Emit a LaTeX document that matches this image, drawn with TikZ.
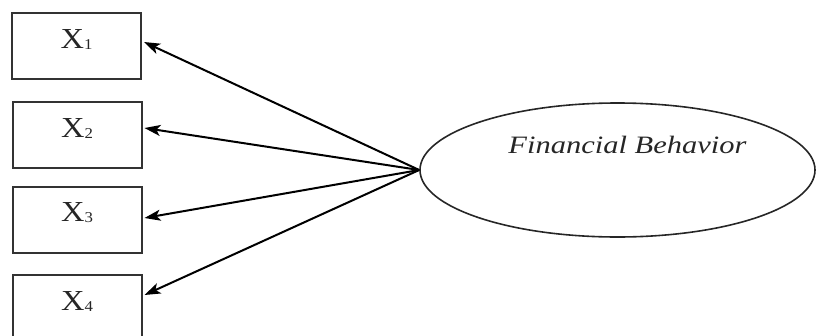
\documentclass[tikz,border=0pt]{standalone}
\usepackage{fontspec}
\setmainfont{Liberation Serif}
\newfontfamily\boxfont[FakeStretch=1.12]{Liberation Serif}
\newfontfamily\ellfont[FakeStretch=1.22]{Liberation Serif}
\usetikzlibrary{shapes.geometric,arrows.meta}
\newcommand{\xlab}[1]{X{\fontsize{15pt}{15pt}\selectfont\raisebox{-1pt}{#1}}}
\begin{document}
\begin{tikzpicture}[x=1pt,y=-1pt,
  itembox/.style={draw=black!80,line width=2pt,rectangle,inner sep=0pt,
    minimum width=129pt,minimum height=66pt,text height=20pt,text depth=16pt,
    text=black!85,font=\boxfont\fontsize{29pt}{29pt}\selectfont},
  latent/.style={draw=black!85,line width=1.6pt,ellipse,inner sep=0pt,
    minimum width=395pt,minimum height=134pt,text height=18pt,text depth=52pt,
    text=black!85,font=\ellfont\itshape\fontsize{25pt}{25pt}\selectfont},
  load/.style={line width=2pt,-{Stealth[length=16pt,width=11pt,inset=4pt]}}]
\useasboundingbox (0,0) rectangle (817,335);
\clip (0,0) rectangle (817,335);
\node[itembox] (x1) at (76.5,46) {\xlab{1}};
\node[itembox] (x2) at (77,135) {\xlab{2}};
\node[itembox] (x3) at (77,219.5) {\xlab{3}};
\node[itembox] (x4) at (77,308) {\xlab{4}};
\node[latent] (fb) at (617.5,170) {\hspace*{20pt}Financial Behavior};
\draw[load] (fb.west) -- ([yshift=4pt,xshift=2pt]x1.east);
\draw[load] (fb.west) -- ([yshift=7pt,xshift=2pt]x2.east);
\draw[load] (fb.west) -- ([yshift=1.5pt,xshift=2pt]x3.east);
\draw[load] (fb.west) -- ([yshift=13pt,xshift=2pt]x4.east);
\end{tikzpicture}
\end{document}
